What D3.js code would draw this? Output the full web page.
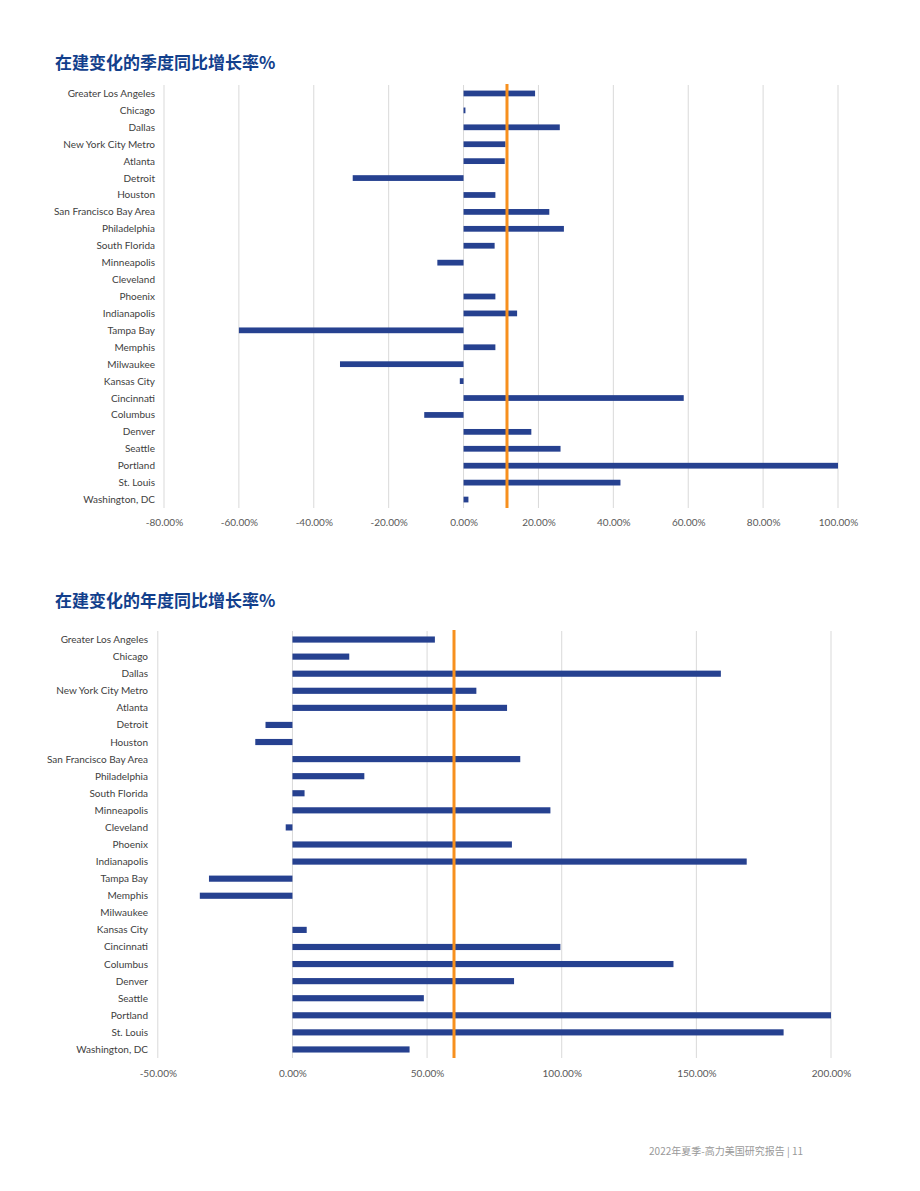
<!DOCTYPE html>
<html>
<head>
<meta charset="utf-8">
<script src="https://cdn.jsdelivr.net/npm/d3@7"></script>
<style>
  body { margin: 0; background: #fff; }
  svg { display: block; }
  .title { font-family: "Noto Sans CJK SC", sans-serif; font-weight: 700; font-size: 17px; fill: #123f8c; }
  .cat { font-family: "Lato", "Open Sans", sans-serif; font-size: 10px; fill: #404040; }
  .tick text { font-family: "Lato", "Open Sans", sans-serif; font-size: 10px; fill: #595959; }
  .footer { font-family: "Noto Sans CJK SC", sans-serif; font-size: 10px; fill: #999999; }
</style>
</head>
<body>
<script>
const cities = [
  "Greater Los Angeles", "Chicago", "Dallas", "New York City Metro", "Atlanta",
  "Detroit", "Houston", "San Francisco Bay Area", "Philadelphia", "South Florida",
  "Minneapolis", "Cleveland", "Phoenix", "Indianapolis", "Tampa Bay",
  "Memphis", "Milwaukee", "Kansas City", "Cincinnati", "Columbus",
  "Denver", "Seattle", "Portland", "St. Louis", "Washington, DC"
];

// quarterly YoY change (%)
const quarterValues = [
  19.1, 0.5, 25.7, 11.2, 11.0,
  -29.6, 8.5, 22.9, 26.8, 8.3,
  -7.0, 0, 8.5, 14.3, -60.0,
  8.5, -33.0, -1.0, 58.8, -10.5,
  18.1, 25.9, 100.0, 41.9, 1.3
];
const quarterAvg = 11.6;
const quarterTicks = [-80, -60, -40, -20, 0, 20, 40, 60, 80, 100];

// annual YoY change (%)
const yearValues = [
  52.9, 21.1, 159.1, 68.3, 79.7,
  -10.0, -13.8, 84.6, 26.7, 4.5,
  95.8, -2.5, 81.5, 168.7, -31.0,
  -34.4, 0, 5.3, 99.5, 141.5,
  82.3, 48.8, 200.0, 182.4, 43.5
];
const yearAvg = 60.0;
const yearTicks = [-50, 0, 50, 100, 150, 200];

const barColor = "#264190";
const avgColor = "#f7901e";
const gridColor = "#d9d9d9";

const svg = d3.select("body").append("svg")
  .attr("width", 920)
  .attr("height", 1191);

function drawChart(opts) {
  const g = svg.append("g");

  g.append("text")
    .attr("class", "title")
    .attr("x", 55)
    .attr("y", opts.titleY)
    .text(opts.title);

  const x = d3.scaleLinear()
    .domain([opts.ticks[0], opts.ticks[opts.ticks.length - 1]])
    .range(opts.xRange);

  const y = d3.scaleBand()
    .domain(cities)
    .range(opts.yRange)
    .paddingInner(opts.pad)
    .paddingOuter(opts.pad / 2);

  // gridlines
  g.append("g")
    .selectAll("line")
    .data(opts.ticks)
    .join("line")
    .attr("x1", d => x(d))
    .attr("x2", d => x(d))
    .attr("y1", opts.yRange[0])
    .attr("y2", opts.yRange[1])
    .attr("stroke", gridColor)
    .attr("stroke-width", 1);

  // category labels
  g.append("g")
    .selectAll("text")
    .data(cities)
    .join("text")
    .attr("class", "cat")
    .attr("x", opts.labelX)
    .attr("y", d => y(d) + y.bandwidth() / 2)
    .attr("dy", "0.35em")
    .attr("text-anchor", "end")
    .text(d => d);

  // bars
  g.append("g")
    .selectAll("rect")
    .data(opts.values)
    .join("rect")
    .attr("x", d => x(Math.min(0, d)))
    .attr("width", d => Math.abs(x(d) - x(0)))
    .attr("y", (d, i) => y(cities[i]))
    .attr("height", y.bandwidth())
    .attr("fill", barColor);

  // average line
  g.append("line")
    .attr("x1", x(opts.avg))
    .attr("x2", x(opts.avg))
    .attr("y1", opts.yRange[0] - 1)
    .attr("y2", opts.yRange[1])
    .attr("stroke", avgColor)
    .attr("stroke-width", 3);

  // x axis
  const axis = g.append("g")
    .attr("transform", `translate(0,${opts.axisY})`)
    .call(d3.axisBottom(x)
      .tickValues(opts.ticks)
      .tickSize(0)
      .tickPadding(0)
      .tickFormat(d => d.toFixed(2) + "%"));
  axis.select(".domain").remove();
}

drawChart({
  title: "在建变化的季度同比增长率%",
  titleY: 69,
  values: quarterValues,
  avg: quarterAvg,
  ticks: quarterTicks,
  xRange: [164, 838],
  yRange: [85, 508],
  pad: 0.66,
  labelX: 155,
  axisY: 519
});

drawChart({
  title: "在建变化的年度同比增长率%",
  titleY: 607,
  values: yearValues,
  avg: yearAvg,
  ticks: yearTicks,
  xRange: [157.8, 831],
  yRange: [631, 1058],
  pad: 0.64,
  labelX: 148,
  axisY: 1070
});

svg.append("text")
  .attr("class", "footer")
  .attr("x", 803)
  .attr("y", 1155)
  .attr("text-anchor", "end")
  .text("2022年夏季-高力美国研究报告 | 11");
</script>
</body>
</html>
